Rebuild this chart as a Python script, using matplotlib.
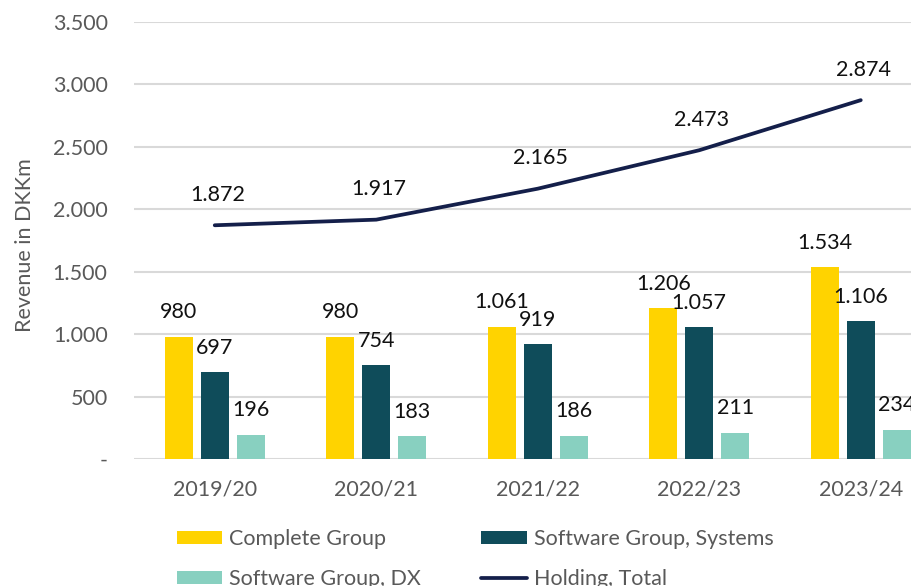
import matplotlib
matplotlib.use('Agg')
import matplotlib.pyplot as plt
import numpy as np

plt.rcParams['font.family'] = ['Lato', 'DejaVu Sans']

# Data
years = ['2019/20', '2020/21', '2021/22', '2022/23', '2023/24']
complete_group = [980, 980, 1061, 1206, 1534]
software_systems = [697, 754, 919, 1057, 1106]
software_dx = [196, 183, 186, 211, 234]
holding_total = [1872, 1917, 2165, 2473, 2874]
y_ticks = [0, 500, 1000, 1500, 2000, 2500, 3000, 3500]

YELLOW = '#FFD300'
DARK_TEAL = '#0F4C5A'
LIGHT_TEAL = '#88D0C0'
NAVY = '#141F4A'
GREY = '#595959'
FS = 15.5


def fmt(v):
    return f"{v:,}".replace(',', '.')


fig = plt.figure(figsize=(9.12, 5.86), dpi=100)
W, H = 912, 586
left, right, top, bottom = 134, 941.5, 22, 459
ax = fig.add_axes([left / W, 1 - bottom / H, (right - left) / W, (bottom - top) / H])

x = np.arange(len(years))
bw = 0.175
step = 0.223

series = [
    (complete_group, YELLOW, 'Complete Group', -step),
    (software_systems, DARK_TEAL, 'Software Group, Systems', 0),
    (software_dx, LIGHT_TEAL, 'Software Group, DX', step),
]
handles = {}
for vals, col, lab, off in series:
    bars = ax.bar(x + off, vals, width=bw, color=col, label=lab, zorder=2)
    handles[lab] = bars
    for xi, v in zip(x + off, vals):
        ax.annotate(fmt(v), (xi, v), xytext=(0, 17.5), textcoords='offset points',
                    ha='center', va='center', fontsize=FS, color='#111111')

line, = ax.plot(x, holding_total, color=NAVY, linewidth=2.7, zorder=3,
                label='Holding, Total', solid_capstyle='round')
for xi, v in zip(x, holding_total):
    ax.annotate(fmt(v), (xi, v), xytext=(2, 22), textcoords='offset points',
                ha='center', va='center', fontsize=FS, color='#111111')

ax.set_xlim(-0.5, len(years) - 0.5)
ax.set_ylim(0, 3500)
ax.set_yticks(y_ticks)
ax.set_yticklabels(['-' if t == 0 else fmt(t) for t in y_ticks])
ax.set_xticks(x)
ax.set_xticklabels(years)
ax.tick_params(axis='both', length=0, colors=GREY, labelsize=FS)
ax.tick_params(axis='y', pad=19)
ax.tick_params(axis='x', pad=15)
ax.grid(axis='y', color='#D9D9D9', linewidth=1.5, zorder=0)
ax.set_axisbelow(True)
for s in ax.spines.values():
    s.set_visible(False)

fig.text(25 / W, 1 - 245 / H, 'Revenue in DKKm', rotation=90, ha='center', va='center',
         fontsize=FS, color=GREY)

leg_handles = [handles['Complete Group'], handles['Software Group, DX'],
               handles['Software Group, Systems'], line]
leg_labels = ['Complete Group', 'Software Group, DX', 'Software Group, Systems', 'Holding, Total']
leg = fig.legend(leg_handles, leg_labels, ncol=2, loc='upper left',
                 bbox_to_anchor=(177 / W, 1 - 529 / H), frameon=False, fontsize=FS,
                 borderpad=0, borderaxespad=0, handlelength=2.1, handleheight=0.55,
                 handletextpad=0.33, columnspacing=2.8, labelspacing=0.93)
for t in leg.get_texts():
    t.set_color(GREY)

fig.savefig('out.png', dpi=100)
